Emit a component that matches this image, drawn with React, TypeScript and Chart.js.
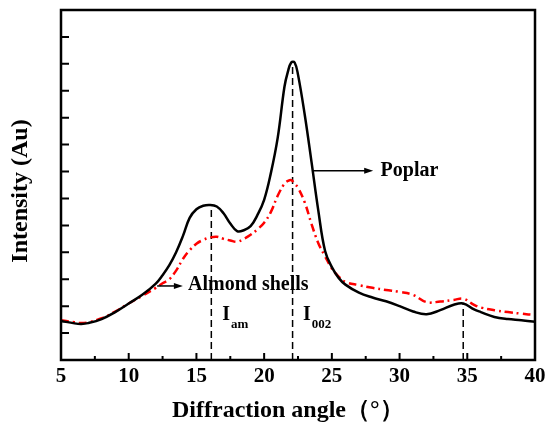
import React, { useEffect, useRef } from "react";
import { Chart, registerables } from "chart.js";

Chart.register(...registerables);

// diffraction angle (2θ, degrees) shared by both curves
const angles = [
  5, 6, 6.5, 7, 8, 9, 10, 11, 12, 12.5, 13, 13.5, 14, 14.5, 15, 15.5, 16, 16.5, 17, 17.5, 18, 18.5, 19, 19.5,
  20, 20.5, 21, 21.5, 21.75, 22, 22.25, 22.5, 23, 23.5, 24, 24.5, 25, 25.5, 26, 27, 28, 29, 30, 31, 32, 33, 34,
  34.7, 35.5, 36, 37, 38, 39, 40,
];

const poplar = [
  1.45, 1.36, 1.34, 1.37, 1.52, 1.78, 2.1, 2.42, 2.84, 3.15, 3.52, 4.0, 4.6, 5.28, 5.6, 5.73, 5.76, 5.7, 5.45,
  5.07, 4.79, 4.82, 4.97, 5.38, 5.95, 6.95, 8.25, 10.15, 10.7, 11.05, 11.05, 10.6, 9.1, 7.35, 5.55, 4.05, 3.45,
  3.05, 2.8, 2.5, 2.32, 2.18, 2.0, 1.8, 1.7, 1.85, 2.05, 2.1, 1.88, 1.78, 1.6, 1.52, 1.48, 1.42,
];

const almondShells = [
  1.48, 1.4, 1.37, 1.4, 1.55, 1.8, 2.1, 2.38, 2.68, 2.85, 3.0, 3.32, 3.75, 4.08, 4.32, 4.46, 4.55, 4.58, 4.5,
  4.44, 4.39, 4.5, 4.65, 4.85, 5.1, 5.5, 6.1, 6.55, 6.65, 6.68, 6.55, 6.4, 5.85, 5.05, 4.34, 3.85, 3.4, 3.1, 2.9,
  2.78, 2.68, 2.6, 2.53, 2.42, 2.15, 2.17, 2.23, 2.28, 2.05, 1.95, 1.85, 1.78, 1.72, 1.67,
];

// peak markers: angle and the height the dashed line reaches
const peakAngles = [16.1, 22.1, 34.7];
const peakHeights = [5.76, 11.1, 2.1];

const xTicks = [5, 10, 15, 20, 25, 30, 35, 40];

const SERIF = "'Liberation Serif', 'Times New Roman', serif";

const decorPlugin = {
  id: "decor",
  afterDraw(chart: any) {
    const { ctx, chartArea: a, scales } = chart;
    const x = scales.x;
    const y = scales.y;
    ctx.save();

    // frame
    ctx.strokeStyle = "#000";
    ctx.lineWidth = 2.5;
    ctx.strokeRect(a.left, a.top, a.right - a.left, a.bottom - a.top);

    // inward ticks
    ctx.lineWidth = 2;
    ctx.beginPath();
    for (let v = 5; v <= 40; v += 2.5) {
      const px = x.getPixelForValue(v);
      const len = v % 5 === 0 ? 7 : 4;
      ctx.moveTo(px, a.bottom);
      ctx.lineTo(px, a.bottom - len);
    }
    for (let v = 1; v <= 12; v++) {
      const py = y.getPixelForValue(v);
      ctx.moveTo(a.left, py);
      ctx.lineTo(a.left + 8, py);
    }
    ctx.stroke();

    // arrows
    const arrow = (x0: number, x1: number, yv: number) => {
      const p0 = x.getPixelForValue(x0);
      const p1 = x.getPixelForValue(x1);
      const py = y.getPixelForValue(yv);
      ctx.lineWidth = 1.5;
      ctx.beginPath();
      ctx.moveTo(p0, py);
      ctx.lineTo(p1 - 6, py);
      ctx.stroke();
      ctx.beginPath();
      ctx.moveTo(p1, py);
      ctx.lineTo(p1 - 9, py - 3);
      ctx.lineTo(p1 - 9, py + 3);
      ctx.closePath();
      ctx.fill();
    };
    ctx.fillStyle = "#000";
    arrow(23.6, 28.05, 7.03);
    arrow(12.1, 14.0, 2.75);

    ctx.textBaseline = "middle";
    ctx.textAlign = "left";
    ctx.font = `bold 20px ${SERIF}`;
    ctx.fillText("Poplar", x.getPixelForValue(28.6), y.getPixelForValue(7.03));
    ctx.fillText("Almond shells", x.getPixelForValue(14.38), y.getPixelForValue(2.78));

    const sub = (main: string, s: string, xv: number) => {
      const px = x.getPixelForValue(xv);
      ctx.font = `bold 20px ${SERIF}`;
      ctx.fillText(main, px, y.getPixelForValue(1.67));
      const w = ctx.measureText(main).width;
      ctx.font = `bold 13px ${SERIF}`;
      ctx.fillText(s, px + w + 1, y.getPixelForValue(1.3));
    };
    sub("I", "am", 16.9);
    sub("I", "002", 22.87);

    // axis titles
    ctx.font = `bold 24px ${SERIF}`;
    ctx.textAlign = "left";
    ctx.fillText("Diffraction angle（°）", a.left + 111, 411);
    ctx.translate(21, 191);
    ctx.rotate(-Math.PI / 2);
    ctx.textAlign = "center";
    ctx.fillText("Intensity (Au)", 0, 0);

    ctx.restore();
  },
};

const DiffractionChart: React.FC = () => {
  const chartRef = useRef<HTMLCanvasElement | null>(null);
  const chartInstance = useRef<Chart | null>(null);

  useEffect(() => {
    const ctx = chartRef.current?.getContext("2d");
    if (!ctx) return;

    const peakSets = peakAngles.map((a, i) => ({
      label: `peak${i}`,
      data: [
        { x: a, y: 0 },
        { x: a, y: peakHeights[i] },
      ],
      borderColor: "#000",
      borderWidth: 1.5,
      borderDash: [7, 4],
      pointRadius: 0,
      tension: 0,
    }));

    chartInstance.current = new Chart(ctx, {
      type: "line",
      data: {
        datasets: [
          {
            label: "Poplar",
            data: angles.map((a, i) => ({ x: a, y: poplar[i] })),
            borderColor: "#000",
            borderWidth: 2.5,
            pointRadius: 0,
            tension: 0.4,
          },
          {
            label: "Almond shells",
            data: angles.map((a, i) => ({ x: a, y: almondShells[i] })),
            borderColor: "#ff0000",
            borderWidth: 2.5,
            borderDash: [8, 4, 2, 4],
            pointRadius: 0,
            tension: 0.4,
          },
          ...peakSets,
        ] as any,
      },
      options: {
        animation: false,
        responsive: true,
        maintainAspectRatio: false,
        layout: { padding: { top: 10, right: 15, left: 0, bottom: 0 } },
        plugins: {
          legend: { display: false },
          tooltip: { enabled: false },
        },
        scales: {
          x: {
            type: "linear",
            min: 5,
            max: 40,
            afterBuildTicks: (scale: any) => {
              scale.ticks = xTicks.map((v) => ({ value: v }));
            },
            afterFit: (scale: any) => {
              scale.height = 73;
            },
            ticks: {
              padding: 4,
              color: "#000",
              font: { family: SERIF, weight: "bold", size: 21 },
            },
            grid: { display: false, drawTicks: false },
            border: { display: false },
          },
          y: {
            type: "linear",
            min: 0,
            max: 13,
            afterFit: (scale: any) => {
              scale.width = 61;
            },
            ticks: { display: false, stepSize: 1 },
            grid: { display: false, drawTicks: false },
            border: { display: false },
          },
        },
      },
      plugins: [decorPlugin],
    });

    return () => {
      if (chartInstance.current) {
        chartInstance.current.destroy();
        chartInstance.current = null;
      }
    };
  }, []);

  return (
    <div style={{ position: "fixed", left: 0, top: 0, width: 550, height: 433, background: "#fff" }}>
      <canvas ref={chartRef}></canvas>
    </div>
  );
};

export default function App() {
  return <DiffractionChart />;
}
